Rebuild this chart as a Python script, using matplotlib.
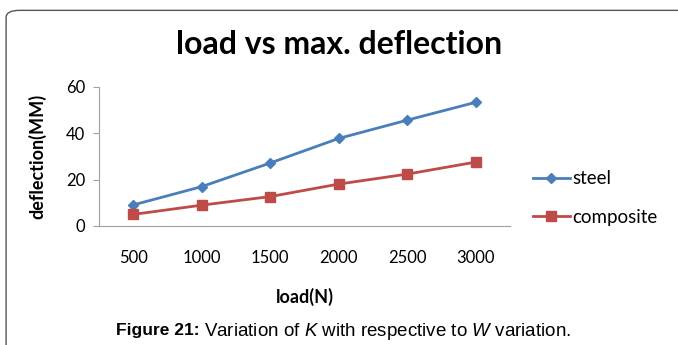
import matplotlib.pyplot as plt
from matplotlib.patches import FancyBboxPatch

# data
loads = ['500', '1000', '1500', '2000', '2500', '3000']
steel = [9.1, 17.0, 27.2, 37.8, 45.7, 53.4]
composite = [5.0, 9.0, 12.7, 18.1, 22.4, 27.6]
yticks = [0, 20, 40, 60]

plt.rcParams['font.family'] = ['Lato', 'DejaVu Sans']
plt.rcParams['mathtext.fontset'] = 'custom'
plt.rcParams['mathtext.rm'] = 'Liberation Sans'
plt.rcParams['mathtext.bf'] = 'Liberation Sans:bold'
plt.rcParams['mathtext.it'] = 'Liberation Sans:italic'

fig = plt.figure(figsize=(6.78, 3.45), dpi=100)
# rounded frame round the figure
frame = FancyBboxPatch((0.009, -0.05), 1.2, 1.02, boxstyle='round,pad=0,rounding_size=0.02',
                       transform=fig.transFigure, fill=False, edgecolor='#555555', linewidth=1)
fig.patches.append(frame)

ax = fig.add_axes([99 / 678, 1 - 226 / 345, (510 - 99) / 678, (226 - 87) / 345])
x = range(len(loads))
ax.plot(x, steel, color='#4a7ebb', marker='D', markersize=5, linewidth=2, label='steel')
ax.plot(x, composite, color='#be4b48', marker='s', markersize=7, linewidth=2, label='composite')

ax.set_xlim(-0.5, len(loads) - 0.5)
ax.set_ylim(0, 60)
ax.set_yticks(yticks)
ax.set_xticks(list(x))
ax.set_xticklabels(loads)
for s in ['top', 'right']:
    ax.spines[s].set_visible(False)
ax.spines['left'].set_color('#a0a0a0')
ax.spines['bottom'].set_color('#a0a0a0')
ax.tick_params(axis='x', length=0, pad=17, labelsize=12)
ax.tick_params(axis='y', length=4, color='#a0a0a0', labelsize=12, pad=6)

ax.set_ylabel('deflection(MM)', fontsize=13, fontweight='bold', labelpad=14)
ax.set_xlabel('load(N)', fontsize=13, fontweight='bold', labelpad=16)

fig.text(0.5, 1 - 45 / 345, 'load vs max. deflection', ha='center', va='center',
         fontsize=23, fontweight='bold')

ax.legend(loc='center left', bbox_to_anchor=(1.055, 0.2), frameon=False, fontsize=13.5,
          handlelength=2.0, handletextpad=0.1, labelspacing=1.15, borderaxespad=0,
          borderpad=0)

# caption, bold part and plain part
fig.text(200 / 678, 1 - 331 / 345, 'Figure 21:', ha='right', va='center',
         fontsize=12.5, family='Liberation Sans', fontweight='bold')
fig.text(204 / 678, 1 - 331 / 345, r'Variation of $K$ with respective to $W$ variation.',
         ha='left', va='center', fontsize=13.5, family='Liberation Sans')

fig.savefig('out.png', dpi=100)
